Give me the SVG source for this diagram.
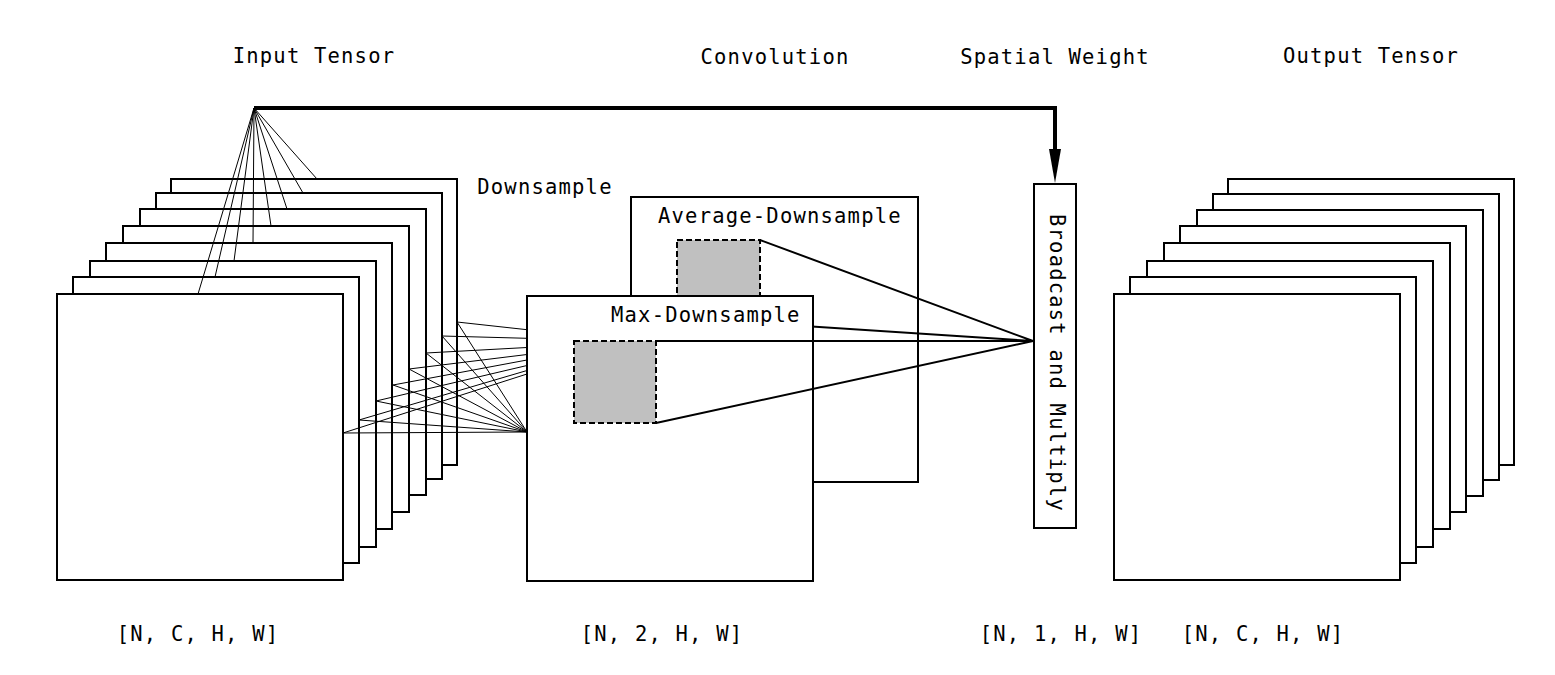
<svg xmlns="http://www.w3.org/2000/svg" width="1555" height="675" viewBox="0 0 1555 675">
<style>
.t{font-family:"DejaVu Sans Mono","Liberation Mono",monospace;font-size:20.5px;letter-spacing:1.2px;fill:#000}
.m{text-anchor:middle}
.sheet{fill:#fff;stroke:#000;stroke-width:2}
.thin{stroke:#000;stroke-width:1;fill:none}
.med{stroke:#000;stroke-width:2;fill:none}
.win{fill:#c0c0c0;stroke:#000;stroke-width:2;stroke-dasharray:6,3}
</style>
<defs>
<marker id="ah" markerWidth="36" markerHeight="14" refX="0" refY="7" orient="auto" markerUnits="userSpaceOnUse"><path d="M0,1 L34,7 L0,13 Z" fill="#000"/></marker>
</defs>
<rect width="1555" height="675" fill="#fff"/>

<g id="titles">
<text class="t m" x="314" y="63">Input Tensor</text>
<text class="t m" x="775" y="64">Convolution</text>
<text class="t m" x="1055" y="64">Spatial Weight</text>
<text class="t m" x="1371" y="63">Output Tensor</text>
<text class="t m" x="545" y="194">Downsample</text>
<text class="t m" x="198" y="641">[N, C, H, W]</text>
<text class="t m" x="662" y="641">[N, 2, H, W]</text>
<text class="t m" x="1061" y="641">[N, 1, H, W]</text>
<text class="t m" x="1263" y="641">[N, C, H, W]</text>
</g>

<g id="input-tensor">
<rect class="sheet" x="171" y="179" width="286" height="286"/>
<rect class="sheet" x="156" y="193" width="286" height="286"/>
<rect class="sheet" x="140" y="209" width="286" height="286"/>
<rect class="sheet" x="123" y="226" width="286" height="286"/>
<rect class="sheet" x="106" y="243" width="286" height="286"/>
<rect class="sheet" x="90" y="261" width="286" height="286"/>
<rect class="sheet" x="73" y="277" width="286" height="286"/>
<rect class="sheet" x="57" y="294" width="286" height="286"/>
</g>

<g id="average-downsample">
<rect class="sheet" x="631" y="197" width="287" height="285"/>
<text class="t" x="658" y="223">Average-Downsample</text>
<rect class="win" x="677" y="240" width="83" height="83"/>
</g>

<g id="connectors">
<path class="med" d="M760,240 L1033,341 M760,323 L1033,341"/>
<g id="fan">
<path class="thin" d="M254,108 L198,294 M254,108 L215,277 M254,108 L234,261 M254,108 L253,243 M254,108 L271,226 M254,108 L287,209 M254,108 L303,193 M254,108 L317,179"/>
</g>
<g id="bundle">
<path class="thin" d="M343,433 L527,374 M359,420 L527,370.5 M376,401 L527,365.5 M393,385 L527,360 M409,369 L527,354.5 M426,353 L527,347.5 M442,336 L527,338.3 M457,322 L527,329.7"/>
<path class="thin" d="M343,433 L527,432 M359,420 L527,432 M376,401 L527,432 M393,385 L527,432 M409,369 L527,432 M426,353 L527,432 M442,336 L527,432 M457,322 L527,432"/>
</g>
<path d="M254,108 H1055 V149" fill="none" stroke="#000" stroke-width="4" marker-end="url(#ah)"/>
</g>

<g id="max-downsample">
<rect class="sheet" x="527" y="296" width="286" height="285"/>
<text class="t" x="611" y="322">Max-Downsample</text>
<rect class="win" x="574" y="341" width="82" height="82"/>
</g>

<g id="max-connectors">
<path class="med" d="M656,341 L1033,341 M656,423 L1033,341"/>
</g>

<g id="spatial-weight">
<rect class="sheet" x="1034" y="184" width="42" height="344"/>
<text class="t m" transform="translate(1050,363) rotate(90)" x="0" y="0">Broadcast and Multiply</text>
</g>

<g id="output-tensor">
<rect class="sheet" x="1228" y="179" width="286" height="286"/>
<rect class="sheet" x="1213" y="194" width="286" height="286"/>
<rect class="sheet" x="1197" y="210" width="286" height="286"/>
<rect class="sheet" x="1180" y="226" width="286" height="286"/>
<rect class="sheet" x="1164" y="243" width="286" height="286"/>
<rect class="sheet" x="1147" y="261" width="286" height="286"/>
<rect class="sheet" x="1130" y="277" width="286" height="286"/>
<rect class="sheet" x="1114" y="294" width="286" height="286"/>
</g>
</svg>
